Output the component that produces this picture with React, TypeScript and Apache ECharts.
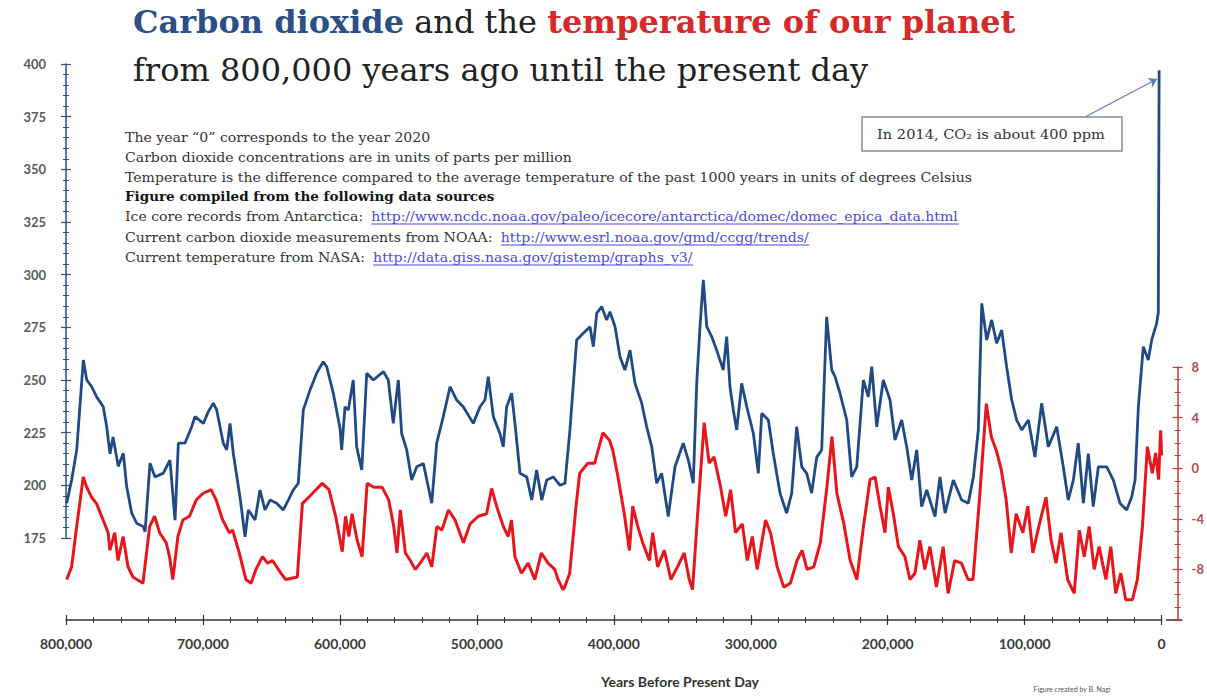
import React, { useEffect, useRef } from "react";
import * as echarts from "echarts";

// ---------- DATA ----------
const co2Years = [
  799500, 795900, 792200, 787400, 784900, 781300, 777700, 772900, 770400, 768000, 765800, 762000, 758300, 755900, 752200, 748600, 743800, 742500,
  738900, 735300, 729200, 724400, 720700, 718300, 713500, 708600, 706200, 700100, 696500, 692900, 690400, 685600, 683100, 680700, 678300, 673500,
  669800, 667400, 662500, 658900, 655300, 651600, 646800, 642000, 638300, 634700, 631100, 627400, 622500, 617700, 612900, 610400, 605600, 600700,
  599500, 597100, 594700, 591100, 588600, 584900, 581300, 576500, 569200, 565600, 562000, 558300, 555900, 552200, 548600, 544900, 540100, 534000,
  530400, 525600, 520700, 515900, 511100, 503800, 498900, 495300, 492900, 489200, 484400, 482000, 479500, 475900, 473500, 469800, 464900, 461300,
  457700, 454000, 450400, 445600, 440700, 437100, 433500, 428600, 423800, 418900, 416500, 414000, 410400, 406800, 404400, 400700, 397100, 393500,
  389800, 386200, 381300, 377700, 374000, 370400, 366800, 362000, 357100, 351100, 347400, 343800, 341300, 338900, 336500, 334000, 330400, 326800,
  322000, 319500, 317100, 314700, 312200, 308600, 304900, 300100, 296500, 294000, 289200, 285600, 280700, 275900, 272200, 268600, 264900, 261300,
  257700, 254000, 250400, 246800, 243100, 240700, 237100, 232200, 228600, 224900, 220100, 216500, 214000, 210400, 205600, 200700, 197100, 192200,
  188600, 184900, 181300, 177700, 174000, 168000, 164400, 160700, 154700, 148600, 143800, 140100, 136500, 134000, 130400, 126800, 123100, 119500,
  115900, 112200, 108600, 104900, 100100, 95300, 90400, 85600, 79500, 74700, 71100, 67400, 63800, 60100, 56500, 52900, 49200, 43100,
  38300, 33500, 28600, 24900, 22500, 20100, 16500, 12900, 10400, 6800, 5600, 5000,
];
const co2Values = [
  191.5, 202.5, 216.8, 259.5, 250, 246.8, 242, 237.3, 227.8, 215, 223, 209, 215.2, 199.4, 186.8, 182, 180.4, 178,
  210.5, 204, 205.8, 212, 183.5, 220, 220, 227.8, 232.6, 229.4, 235, 239, 235.8, 220, 216.8, 229.4, 215, 194.6,
  175.6, 188.3, 183.5, 197.8, 188.3, 193, 191.5, 188.3, 193, 197.8, 201, 235.8, 245.3, 253.2, 258.7, 256.3, 243.7, 227,
  216.8, 237.3, 235.8, 250, 218.3, 207.3, 253.2, 250, 254, 250, 229.4, 250, 224.6, 216.8, 202.5, 208.8, 210.4, 191.5,
  220, 232.6, 246.8, 240.5, 237.3, 229.4, 237.3, 240.5, 251.6, 232.6, 224.6, 218.3, 237.3, 243.7, 229.4, 205.7, 204, 193,
  207.3, 193, 202.5, 204, 200, 201, 226.3, 269, 272.2, 275.3, 265.8, 281.7, 284.8, 278.5, 282.4, 275.3, 261, 254.7,
  264.2, 248.4, 239, 227.8, 218.3, 201, 205.7, 185.2, 208.8, 220, 212, 201, 248.4, 275.3, 297.5, 275.3, 270.6, 264.2,
  254.7, 270.6, 246.8, 235.8, 226.3, 248.4, 237.3, 224.6, 205.7, 234.2, 231, 215, 196.3, 186.8, 196.3, 227.8, 208.8, 205.7,
  196.3, 213.4, 216.8, 280, 254.7, 251.6, 243.7, 231, 204, 208.8, 250, 242, 256.3, 227.8, 250, 240.5, 221.5, 231,
  218.3, 202.5, 216.8, 189.9, 197.8, 185.2, 204, 186.8, 202.5, 193, 191.5, 204, 226.3, 286.4, 269, 278.5, 267.4, 273.7,
  256.3, 240.5, 231, 226.3, 231, 213.4, 239, 218.3, 227.8, 208.8, 193, 202.5, 220, 191.5, 215, 189.9, 208.8, 208.8,
  202.5, 191.5, 188.3, 194.6, 202.5, 237.3, 265.8, 259.5, 269, 276.9, 282, 397,
];

const tempYears = [
  799500, 795900, 792200, 787400, 784900, 781300, 777700, 772900, 769200, 768000, 764400, 762000, 758300, 754700, 751100, 743800,
  738900, 735300, 731600, 726800, 724400, 722000, 718300, 714700, 709800, 704900, 700100, 694000, 690400, 685600, 680700, 678300,
  673500, 668600, 664900, 661300, 656500, 652900, 649200, 643100, 639500, 631100, 627400, 620100, 612900, 608000, 603100, 598300,
  595900, 593500, 591100, 587400, 583800, 580100, 575300, 569200, 564400, 560700, 558300, 555900, 552200, 548600, 544900, 540100,
  536500, 532900, 529200, 525600, 520700, 515900, 509800, 504900, 498900, 492900, 489200, 485600, 480700, 477100, 474700, 472200,
  467400, 462500, 457700, 452900, 448000, 443100, 440700, 437100, 435900, 432200, 427400, 424900, 418900, 414000, 408000, 403100,
  400700, 397100, 392200, 388600, 386200, 382500, 378900, 374000, 371600, 368000, 363100, 358300, 353500, 348600, 344900, 342500,
  338900, 334000, 330400, 326800, 322000, 318300, 314700, 311100, 306200, 302500, 298900, 295300, 289200, 285600, 280700, 275900,
  271100, 266200, 262500, 258900, 254000, 249200, 244400, 240700, 237100, 232200, 227400, 222500, 217700, 212900, 209200, 205600,
  202000, 199500, 195900, 192200, 187400, 183800, 180100, 176500, 172900, 169200, 164400, 159500, 155900, 151100, 146200, 141300,
  137700, 132900, 128000, 124400, 120700, 117100, 113500, 109800, 106200, 101300, 97700, 94000, 89200, 84400, 80700, 77100,
  73500, 68600, 63800, 60100, 56500, 52900, 49200, 45600, 40700, 37100, 33500, 29800, 26200, 21300, 17700, 14000,
  10400, 6800, 4400, 2200, 700, 0,
];
const tempValues = [
  -8.8, -7.8, -4.6, -0.7, -1.5, -2.3, -2.8, -4.1, -5.1, -6.5, -5.1, -7.3, -5.4, -7.8, -8.6, -9.1,
  -4.6, -3.8, -5.1, -5.9, -7.0, -8.8, -5.4, -4.1, -3.8, -2.5, -2.0, -1.7, -2.5, -4.1, -5.1, -4.9,
  -6.7, -8.8, -9.1, -8.0, -7.0, -7.5, -7.3, -8.3, -8.8, -8.6, -2.8, -2.0, -1.2, -1.7, -3.8, -6.6,
  -3.8, -5.4, -3.6, -5.7, -7.0, -1.2, -1.5, -1.5, -2.5, -4.6, -6.7, -3.3, -6.7, -7.3, -8.0, -7.3,
  -6.7, -7.8, -4.6, -4.9, -3.3, -4.1, -5.9, -4.4, -3.8, -3.6, -1.6, -3.0, -4.6, -5.4, -4.1, -7.0,
  -8.3, -7.5, -8.8, -6.7, -7.5, -8.0, -8.8, -9.6, -9.4, -8.3, -2.8, -0.4, 0.4, 0.4, 2.8, 2.2,
  1.4, -0.6, -3.7, -6.5, -3.0, -4.6, -5.9, -7.3, -5.1, -7.8, -6.5, -8.8, -7.8, -6.7, -8.8, -9.6,
  -3.8, 3.6, 0.4, 0.9, -1.5, -3.8, -1.7, -5.1, -4.4, -7.3, -5.4, -8.0, -4.1, -5.1, -7.8, -9.4,
  -9.1, -7.3, -6.5, -8.0, -7.8, -5.9, -1.5, 2.5, -2.0, -4.3, -7.3, -8.8, -4.6, -0.9, -0.7, -3.0,
  -5.1, -1.5, -3.6, -6.2, -7.0, -8.8, -8.3, -5.7, -8.0, -6.2, -9.4, -6.2, -9.9, -7.3, -7.5, -8.8,
  -8.8, -2.3, 5.1, 2.5, 1.4, -0.1, -2.5, -6.7, -3.6, -5.1, -3.0, -6.7, -4.4, -2.3, -5.7, -7.5,
  -5.1, -8.8, -9.9, -4.9, -7.0, -4.6, -8.0, -6.2, -8.8, -6.2, -9.9, -8.3, -10.4, -10.4, -8.8, -4.6,
  1.7, -0.4, 1.2, -0.9, 3.0, 1.0,
];

const co2Ticks = [175, 200, 225, 250, 275, 300, 325, 350, 375, 400];
const tempTicks = [-12, -8, -4, 0, 4, 8];
const yearTicks = [0, 100000, 200000, 300000, 400000, 500000, 600000, 700000, 800000];

const titleParts = ["Carbon dioxide", " and the ", "temperature of our planet"];
const subtitle = "from 800,000 years ago until the present day";
const infoLines = [
  "The year \u201C0\u201D corresponds to the year 2020",
  "Carbon dioxide concentrations are in units of parts per million",
  "Temperature is the difference compared to the average temperature of the past 1000 years in units of degrees Celsius",
];
const infoHeading = "Figure compiled from the following data sources";
const sourceLabels = [
  "Ice core records from Antarctica: ",
  "Current carbon dioxide measurements from NOAA: ",
  "Current temperature from NASA: ",
];
const sourceLinks = [
  "http://www.ncdc.noaa.gov/paleo/icecore/antarctica/domec/domec_epica_data.html",
  "http://www.esrl.noaa.gov/gmd/ccgg/trends/",
  "http://data.giss.nasa.gov/gistemp/graphs_v3/",
];
const noteText = "In 2014, CO\u2082 is about 400 ppm";
const xAxisTitle = "Years Before Present Day";
const creditText = "Figure created by B. Nagi";

// ---------- STYLE ----------
const BLUE = "#1f4a86";
const RED = "#e8161b";
const SERIF = '"DejaVu Serif", "Liberation Serif", serif';
const SANS = 'Lato, "Open Sans", sans-serif';

function measure(text: string, font: string): number {
  const c = document.createElement("canvas");
  const ctx = c.getContext("2d");
  if (!ctx) return text.length * 7;
  ctx.font = font;
  return ctx.measureText(text).width;
}

export default function App() {
  const ref = useRef<HTMLDivElement>(null);

  useEffect(() => {
    if (!ref.current) return;
    const chart = echarts.init(ref.current, null, { renderer: "svg" });
    const W = ref.current.clientWidth || 1207;
    const gridRight = Math.max(20, W - 1166);

    const infoSize = 12.5;
    const infoFont = `${infoSize}px "DejaVu Serif"`;
    const infoX = 125;
    const infoY = [138, 158, 178];
    const srcY = [217, 238, 258];
    const infoScale = 848 / measure(infoLines[2], infoFont);

    const infoChildren: any[] = [];
    infoLines.forEach((t, i) => {
      infoChildren.push({
        type: "text",
        x: 0,
        y: infoY[i],
        style: { text: t, font: infoFont, fill: "#333", verticalAlign: "middle" },
      });
    });
    infoChildren.push({
      type: "text",
      x: 0,
      y: 197,
      style: { text: infoHeading, font: `bold 12px "DejaVu Serif"`, fill: "#111", verticalAlign: "middle" },
    });
    sourceLabels.forEach((t, i) => {
      const w = measure(t, infoFont) + 3;
      const lw = measure(sourceLinks[i], infoFont);
      infoChildren.push({
        type: "text",
        x: 0,
        y: srcY[i],
        style: { text: t, font: infoFont, fill: "#333", verticalAlign: "middle" },
      });
      infoChildren.push({
        type: "text",
        x: w,
        y: srcY[i],
        style: { text: sourceLinks[i], font: infoFont, fill: "#4a4ad8", verticalAlign: "middle" },
      });
      infoChildren.push({
        type: "line",
        shape: { x1: w, y1: srcY[i] + 7, x2: w + lw, y2: srcY[i] + 7 },
        style: { stroke: "#4a4ad8", lineWidth: 1 },
      });
    });

    const graphics: any[] = [];
    graphics.push({
      type: "text",
      left: 133,
      top: 6,
      style: {
        text: `{b|${titleParts[0]}}{n|${titleParts[1]}}{r|${titleParts[2]}}`,
        rich: {
          b: { fontFamily: SERIF, fontSize: 32, fontWeight: "bold", fill: "#2b4f86" },
          n: { fontFamily: SERIF, fontSize: 32, fill: "#222" },
          r: { fontFamily: SERIF, fontSize: 32, fontWeight: "bold", fill: "#d42a2a" },
        },
      },
    });
    graphics.push({
      type: "text",
      left: 133,
      top: 54,
      style: { text: subtitle, fontFamily: SERIF, fontSize: 32, fill: "#222" },
    });
    graphics.push({
      type: "group",
      x: infoX,
      y: 0,
      scaleX: infoScale,
      children: infoChildren,
    });
    graphics.push({
      type: "rect",
      shape: { x: 862, y: 117, width: 260, height: 34 },
      style: { fill: "#fff", stroke: "#8a8a8a", lineWidth: 1.5 },
      z: 10,
    });
    graphics.push({
      type: "group",
      x: 991,
      y: 134,
      scaleX: 1.12,
      z: 11,
      children: [
        {
          type: "text",
          x: 0,
          y: 0,
          z: 11,
          style: { text: noteText, font: `13px "DejaVu Serif"`, fill: "#333", align: "center", verticalAlign: "middle" },
        },
      ],
    });
    graphics.push({
      type: "text",
      x: 680,
      y: 681,
      style: { text: xAxisTitle, font: `bold 14px Lato`, fill: "#333", align: "center", verticalAlign: "middle" },
    });
    graphics.push({
      type: "text",
      x: 1072,
      y: 689,
      style: { text: creditText, font: `7px Lato`, fill: "#555", align: "center", verticalAlign: "middle" },
    });
    graphics.push({
      type: "line",
      shape: { x1: W - gridRight, y1: 620, x2: W - gridRight + 16, y2: 620 },
      style: { stroke: "#333", lineWidth: 1.5 },
    });

    const xBase = {
      type: "value",
      min: 0,
      max: 800000,
      interval: 100000,
      inverse: true,
      position: "bottom",
      splitLine: { show: false },
    };
    const yearFmt = (v: number) => (yearTicks.includes(v) ? v.toLocaleString("en-US") : "");

    const option: any = {
      animation: false,
      backgroundColor: "#ffffff",
      grid: [
        { left: 66, right: gridRight, top: 64, bottom: 158 },
        { left: 66, right: gridRight, top: 367, bottom: 76 },
      ],
      xAxis: [
        { ...xBase, gridIndex: 0, show: false },
        {
          ...xBase,
          gridIndex: 1,
          axisLine: { show: true, onZero: false, lineStyle: { color: "#333", width: 1.5 } },
          axisTick: { show: true, length: 5, lineStyle: { color: "#333", width: 1.2 } },
          minorTick: { show: true, splitNumber: 5, length: 3, lineStyle: { color: "#333" } },
          axisLabel: { formatter: yearFmt, margin: 16, fontFamily: SANS, fontSize: 14, fontWeight: "bold", color: "#3a3a3a" },
        },
        {
          ...xBase,
          gridIndex: 1,
          axisLine: { show: false, onZero: false },
          axisTick: { show: true, inside: true, length: 5, lineStyle: { color: "#333", width: 1.2 } },
          minorTick: { show: true, splitNumber: 5, length: 3, lineStyle: { color: "#333" } },
          axisLabel: { show: false },
        },
      ],
      yAxis: [
        {
          type: "value",
          gridIndex: 0,
          min: 175,
          max: 400,
          interval: 25,
          position: "left",
          splitLine: { show: false },
          axisLine: { show: true, onZero: false, lineStyle: { color: "#2b4f86", width: 1.5 } },
          axisTick: { show: true, length: 5, lineStyle: { color: "#2b4f86", width: 1.2 } },
          minorTick: { show: true, splitNumber: 5, length: 3, lineStyle: { color: "#2b4f86" } },
          axisLabel: {
            margin: 20,
            fontFamily: SANS,
            fontSize: 13,
            fontWeight: "bold",
            color: "#5a5a5a",
            formatter: (v: number) => (co2Ticks.includes(v) ? String(v) : ""),
          },
        },
        {
          type: "value",
          gridIndex: 0,
          min: 175,
          max: 400,
          interval: 25,
          position: "left",
          splitLine: { show: false },
          axisLine: { show: false, onZero: false },
          axisTick: { show: true, inside: true, length: 5, lineStyle: { color: "#2b4f86", width: 1.2 } },
          minorTick: { show: true, splitNumber: 5, length: 3, lineStyle: { color: "#2b4f86" } },
          axisLabel: { show: false },
        },
        {
          type: "value",
          gridIndex: 1,
          min: -12,
          max: 8,
          interval: 4,
          position: "right",
          offset: 16,
          splitLine: { show: false },
          axisLine: { show: true, onZero: false, lineStyle: { color: "#c43a3a", width: 1.5 } },
          axisTick: { show: true, length: 5, lineStyle: { color: "#c43a3a", width: 1.2 } },
          minorTick: { show: true, splitNumber: 4, length: 3, lineStyle: { color: "#c43a3a" } },
          axisLabel: {
            margin: 14,
            fontFamily: SANS,
            fontSize: 13,
            fontWeight: "bold",
            color: "#b84a4a",
            formatter: (v: number) => (tempTicks.includes(v) && v !== -12 ? String(v) : ""),
          },
        },
        {
          type: "value",
          gridIndex: 1,
          min: -12,
          max: 8,
          interval: 4,
          position: "right",
          offset: 16,
          splitLine: { show: false },
          axisLine: { show: false, onZero: false },
          axisTick: { show: true, inside: true, length: 5, lineStyle: { color: "#c43a3a", width: 1.2 } },
          minorTick: { show: true, splitNumber: 4, length: 3, lineStyle: { color: "#c43a3a" } },
          axisLabel: { show: false },
        },
      ],
      series: [
        {
          name: "Temperature",
          type: "line",
          xAxisIndex: 1,
          yAxisIndex: 2,
          data: tempYears.map((y, i) => [y, tempValues[i]]),
          showSymbol: false,
          symbol: "none",
          lineStyle: { color: RED, width: 3 },
          z: 3,
        },
        {
          name: "CO2",
          type: "line",
          xAxisIndex: 0,
          yAxisIndex: 0,
          data: co2Years.map((y, i) => [y, co2Values[i]]),
          showSymbol: false,
          symbol: "none",
          clip: false,
          lineStyle: { color: BLUE, width: 2.8 },
          z: 4,
          markLine: {
            silent: true,
            symbol: ["none", "arrow"],
            symbolSize: 8,
            label: { show: false },
            lineStyle: { color: "#5b7fb0", width: 1.2, type: "solid" },
            data: [[{ x: 1085, y: 117 }, { x: 1157, y: 79 }]],
          },
        },
      ],
      graphic: graphics,
    };

    chart.setOption(option);
    return () => chart.dispose();
  }, []);

  return (
    <div
      ref={ref}
      style={{ position: "fixed", left: 0, top: 0, width: 1207, height: 696, background: "#fff" }}
    />
  );
}
